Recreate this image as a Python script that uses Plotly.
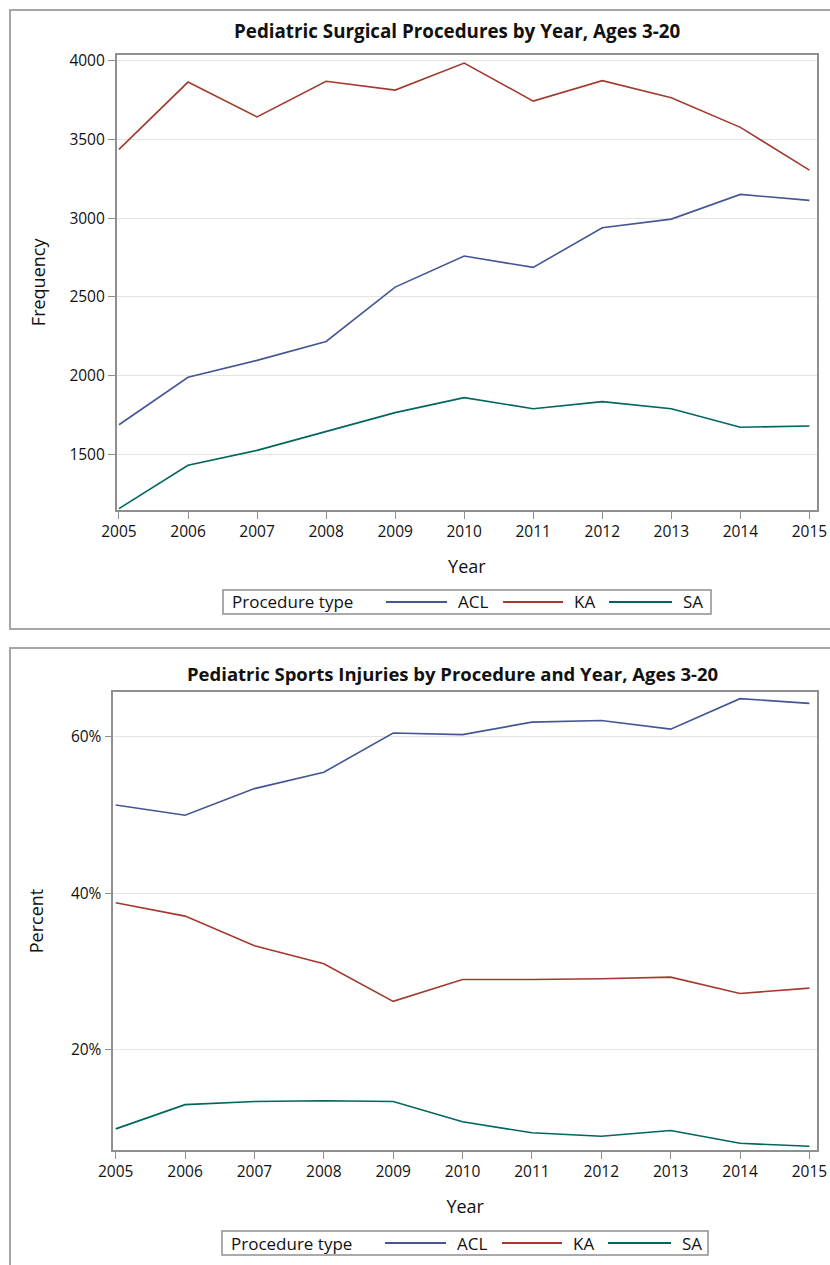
import plotly.graph_objects as go

# Procedure counts and percentages by year
years = [2005, 2006, 2007, 2008, 2009, 2010, 2011, 2012, 2013, 2014, 2015]

freq_acl = [1688, 1990, 2097, 2217, 2563, 2760, 2688, 2940, 2995, 3152, 3114]
freq_ka = [3438, 3866, 3645, 3871, 3815, 3987, 3745, 3875, 3766, 3578, 3306]
freq_sa = [1155, 1430, 1525, 1645, 1765, 1860, 1790, 1835, 1790, 1672, 1680]

pct_acl = [51.3, 50.0, 53.4, 55.5, 60.5, 60.3, 61.9, 62.1, 61.0, 64.9, 64.3]
pct_ka = [38.8, 37.1, 33.3, 31.0, 26.2, 29.0, 29.0, 29.1, 29.3, 27.2, 27.9]
pct_sa = [9.9, 13.0, 13.4, 13.5, 13.4, 10.8, 9.4, 8.95, 9.7, 8.06, 7.67]

procedures = ["ACL", "KA", "SA"]
colors = {"ACL": "#445694", "KA": "#A23A2E", "SA": "#01665E"}

W, H = 830, 1265
FONT = "Open Sans, Noto Sans, DejaVu Sans, sans-serif"
FRAME = "#8f8f8f"
GRID = "#e4e4e4"
TXT = "#111"


def px_x(v):
    return v / W


def px_y(v):
    return 1 - v / H


fig = go.Figure()

for name, vals in zip(procedures, [freq_acl, freq_ka, freq_sa]):
    fig.add_trace(go.Scatter(
        x=years, y=vals, mode="lines", name=name, showlegend=False,
        line=dict(color=colors[name], width=1.6),
        xaxis="x", yaxis="y",
    ))

for name, vals in zip(procedures, [pct_acl, pct_ka, pct_sa]):
    fig.add_trace(go.Scatter(
        x=years, y=vals, mode="lines", name=name, showlegend=False,
        line=dict(color=colors[name], width=1.6),
        xaxis="x2", yaxis="y2",
    ))

axis_common = dict(
    showline=True, linecolor=FRAME, linewidth=1.5, mirror=True,
    ticks="outside", ticklen=7, tickcolor=FRAME, tickwidth=1,
    tickfont=dict(family=FONT, size=15.5, color=TXT),
    zeroline=False, automargin=False,
)

title_font = dict(family=FONT, size=18, color=TXT)
xticks = dict(tickmode="array", tickvals=years, ticktext=[str(y) for y in years])
pct_ticks = [20, 40, 60]

shapes = [
    # outer panel frames
    dict(type="rect", xref="paper", yref="paper",
         x0=px_x(10), x1=px_x(845), y0=px_y(629), y1=px_y(10),
         line=dict(color="#a6a6a6", width=2), layer="below"),
    dict(type="rect", xref="paper", yref="paper",
         x0=px_x(10), x1=px_x(845), y0=px_y(1290), y1=px_y(648),
         line=dict(color="#a6a6a6", width=2), layer="below"),
]

annotations = [
    dict(text="<b>Pediatric Surgical Procedures by Year, Ages 3-20</b>",
         x=px_x(457), y=px_y(31), xref="paper", yref="paper",
         showarrow=False, xanchor="center", yanchor="middle",
         font=dict(family=FONT, size=18.8, color=TXT)),
    dict(text="<b>Pediatric Sports Injuries by Procedure and Year, Ages 3-20</b>",
         x=px_x(452), y=px_y(673), xref="paper", yref="paper",
         showarrow=False, xanchor="center", yanchor="middle",
         font=dict(family=FONT, size=18.5, color=TXT)),
]

# key layout: (line start, line end, label start) offsets from the box's left edge
KEY_SLOTS = [(163, 224, 233), (280, 340, 349), (386, 449, 458)]


def add_legend(left, top, right, bottom):
    """Boxed horizontal key: title, then a line sample and label per procedure."""
    mid = (top + bottom) / 2
    shapes.append(dict(type="rect", xref="paper", yref="paper",
                       x0=px_x(left), x1=px_x(right), y0=px_y(bottom), y1=px_y(top),
                       line=dict(color=FRAME, width=1.5), fillcolor="white"))
    annotations.append(dict(text="Procedure type", x=px_x(left + 7), y=px_y(mid),
                            xref="paper", yref="paper", showarrow=False,
                            xanchor="left", yanchor="middle",
                            font=dict(family=FONT, size=17, color=TXT)))
    for name, (l0, l1, t0) in zip(procedures, KEY_SLOTS):
        shapes.append(dict(type="line", xref="paper", yref="paper",
                           x0=px_x(left + l0), x1=px_x(left + l1),
                           y0=px_y(mid), y1=px_y(mid),
                           line=dict(color=colors[name], width=1.8)))
        annotations.append(dict(text=name, x=px_x(left + t0), y=px_y(mid),
                                xref="paper", yref="paper", showarrow=False,
                                xanchor="left", yanchor="middle",
                                font=dict(family=FONT, size=17, color=TXT)))


add_legend(223, 590, 711, 614)
add_legend(222, 1231, 708, 1255)

fig.update_layout(
    width=W, height=H,
    margin=dict(l=0, r=0, t=0, b=0),
    paper_bgcolor="white", plot_bgcolor="white",
    font=dict(family=FONT, color=TXT),
    xaxis=dict(
        domain=[px_x(116.7), px_x(817)], range=[2004.967, 2015.11],
        anchor="y", showgrid=False, **xticks, **axis_common,
        title=dict(text="Year", font=title_font, standoff=19),
    ),
    yaxis=dict(
        domain=[px_y(510), px_y(54.7)], range=[1146, 4040],
        anchor="x", tickmode="array", tickvals=[1500, 2000, 2500, 3000, 3500, 4000],
        showgrid=True, gridcolor=GRID, gridwidth=1, **axis_common,
        title=dict(text="Frequency", font=title_font, standoff=19),
    ),
    xaxis2=dict(
        domain=[px_x(113.3), px_x(817)], range=[2004.965, 2015.11],
        anchor="y2", showgrid=False, **xticks, **axis_common,
        title=dict(text="Year", font=title_font, standoff=19),
    ),
    yaxis2=dict(
        domain=[px_y(1150), px_y(692)], range=[7.2, 65.75],
        anchor="x2", tickmode="array", tickvals=pct_ticks,
        ticktext=[f"{v}%" for v in pct_ticks],
        showgrid=True, gridcolor=GRID, gridwidth=1, **axis_common,
        title=dict(text="Percent", font=title_font, standoff=23),
    ),
    shapes=shapes,
    annotations=annotations,
)

fig.write_html("out.html")
